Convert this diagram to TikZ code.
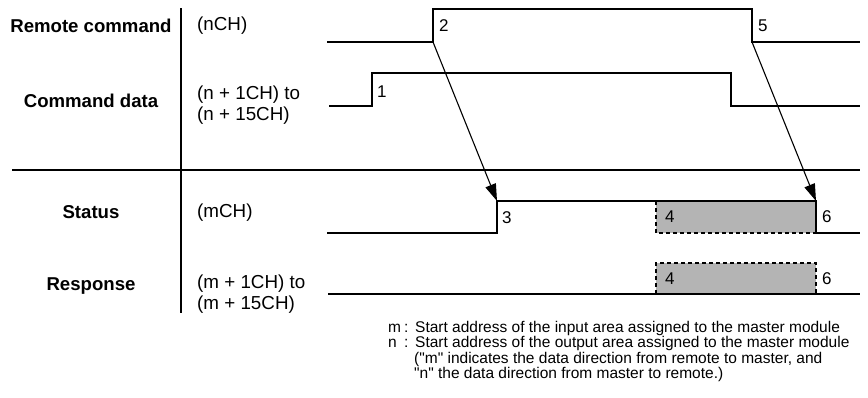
\documentclass[tikz,border=0pt]{standalone}
\usepackage{fontspec}
\setmainfont{Liberation Sans}[Ligatures=TeXOff]
\usetikzlibrary{arrows.meta}
\definecolor{boxgray}{RGB}{180,180,180}
\tikzset{
  sig/.style={line width=2pt, line join=miter},
  rule/.style={line width=1.8pt},
  lbl/.style={inner sep=0pt, anchor=base, font=\bfseries\fontsize{18.6}{21}\selectfont},
  chl/.style={inner sep=0pt, anchor=base west, font=\fontsize{18.8}{21}\selectfont},
  num/.style={inner sep=0pt, anchor=base west, font=\fontsize{17}{20}\selectfont},
  note/.style={inner sep=0pt, anchor=base west, font=\fontsize{15.5}{16}\selectfont},
  dashbox/.style={line width=1.5pt, dash pattern=on 4pt off 3pt},
  cause/.style={line width=1.1pt, -{Triangle[length=17pt,width=11pt]}}
}
\begin{document}
\begin{tikzpicture}[x=1pt,y=-1pt]
\useasboundingbox (0,0) rectangle (868,397);
% frame rules
\coordinate (vt) at (181,8);
\coordinate (vb) at (181,313);
\coordinate (hl) at (12,170);
\coordinate (hr) at (860,170);
\draw[rule] (vt) -- (vb);
\draw[rule] (hl) -- (hr);
% row labels
\node[lbl] (lrc) at (91,32) {Remote command};
\node[lbl] (lcd) at (91,107) {Command data};
\node[lbl] (lst) at (91,218) {Status};
\node[lbl] (lrs) at (91,290) {Response};
% channel labels
\node[chl] (crc) at (197,30) {(nCH)};
\node[chl] (cd1) at (197,99) {(n + 1CH) to};
\node[chl] (cd2) at (197,120) {(n + 15CH)};
\node[chl] (cst) at (197,217) {(mCH)};
\node[chl] (cr1) at (197,288) {(m + 1CH) to};
\node[chl] (cr2) at (197,309) {(m + 15CH)};
% gray boxes
\fill[boxgray] (656,201) rectangle (816,233);
\fill[boxgray] (656,263) rectangle (816,294);
\draw[dashbox] (656,201) -- (656,233) -- (816,233);
\draw[dashbox] (656,294) -- (656,263) -- (816,263) -- (816,294);
% signal edge coordinates
\coordinate (rcup) at (433,42);
\coordinate (rcdn) at (752,42);
\coordinate (stup) at (497,201);
\coordinate (stdn) at (816,201);
% signals
\draw[sig] (327,42) -- (rcup) -- (433,9) -- (752,9) -- (rcdn) -- (860,42);
\draw[sig] (329,106) -- (372,106) -- (372,73) -- (731,73) -- (731,106) -- (860,106);
\draw[sig] (327,233) -- (497,233) -- (stup) -- (stdn) -- (816,233) -- (860,233);
\draw[sig] (328,294) -- (860,294);
% causal arrows
\draw[cause] (rcup) -- (stup);
\draw[cause] (rcdn) -- (stdn);
% step numbers
\node[num] (n1) at (377,97) {1};
\node[num] (n2) at (439,31) {2};
\node[num] (n5) at (758,31) {5};
\node[num] (n3) at (502,223) {3};
\node[num] (n4a) at (665,222) {4};
\node[num] (n6a) at (822,222) {6};
\node[num] (n4b) at (665,284) {4};
\node[num] (n6b) at (822,284) {6};
% notes
\node[note] (m1) at (388,332.5) {m};
\node[note] (m2) at (404,332.5) {:};
\node[note] (m3) at (415,332.5) {Start address of the input area assigned to the master module};
\node[note] (k1) at (388,347.8) {n};
\node[note] (k2) at (404,347.8) {:};
\node[note] (k3) at (415,347.8) {Start address of the output area assigned to the master module};
\node[note] (p1) at (414,363.1) {("m" indicates the data direction from remote to master, and};
\node[note] (p2) at (414,378.4) {"n" the data direction from master to remote.)};
\end{tikzpicture}
\end{document}
